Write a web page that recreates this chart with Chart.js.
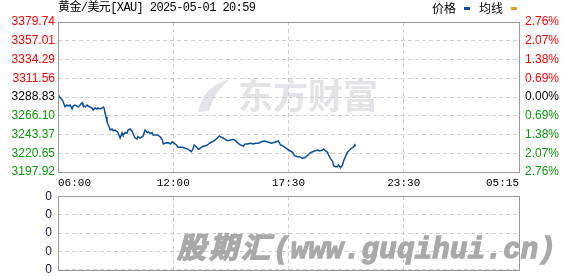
<!DOCTYPE html>
<html>
<head>
<meta charset="utf-8">
<script src="https://cdn.jsdelivr.net/npm/chart.js@4.4.0/dist/chart.umd.min.js"></script>
<style>
  body { margin: 0; background: #fff; }
  #wrap { position: relative; width: 578px; height: 276px; overflow: hidden; }
  canvas { position: absolute; left: 0; }
  #title { position: absolute; left: 58px; top: 1px; font: 12px "Liberation Mono", "Noto Sans CJK SC", monospace; line-height: 14px; color: #000; letter-spacing: -0.6px; }
  #legend { position: absolute; left: 432px; top: 1px; font: 12px "Noto Sans CJK SC", sans-serif; line-height: 14px; color: #000; }
  #legend i { display: inline-block; width: 6px; height: 3px; margin: 0 9px 3px 8px; vertical-align: middle; }
  #mark { position: absolute; left: 177px; top: 224px; color: #a9a9a9; -webkit-text-stroke: 1.3px #a9a9a9; line-height: 30px; white-space: nowrap; }
  #mark .cn { font: italic bold 29px "Noto Sans CJK SC", sans-serif; letter-spacing: 3px; }
  #mark .en { font: italic bold 29px "Liberation Mono", monospace; letter-spacing: 0.3px; }
</style>
</head>
<body>
<div id="wrap">
  <canvas id="priceChart" width="578" height="190" style="top:0"></canvas>
  <canvas id="volChart" width="578" height="100" style="top:183px"></canvas>
  <div id="title">黄金/美元[XAU] 2025-05-01 20:59</div>
  <div id="legend">价格<i style="background:#0b50a0"></i>均线<i style="background:#e0a020"></i></div>
  <div id="mark"><span class="cn">股期汇</span><span class="en">(www.guqihui.cn)</span></div>
</div>
<script>
// price axis (top to bottom, as printed)
const priceTicks = [3379.74, 3357.01, 3334.29, 3311.56, 3288.83, 3266.10, 3243.37, 3220.65, 3197.92];
const pctLabels = ["2.76%", "2.07%", "1.38%", "0.69%", "0.00%", "0.69%", "1.38%", "2.07%", "2.76%"];
const prevClose = 3288.83;

// time axis
const timeTicks = ["06:00", "12:00", "17:30", "23:30", "05:15"];

// intraday price
const times = [
  "06:00","06:03","06:06","06:13","06:16","06:22","06:28","06:31","06:38","06:44",
  "06:47","06:53","06:59","07:03","07:09","07:15","07:18","07:25","07:31","07:34",
  "07:40","07:46","07:50","07:56","08:02","08:05","08:11","08:18","08:21","08:24",
  "08:27","08:30","08:33","08:37","08:40","08:43","08:49","08:52","08:58","09:05",
  "09:08","09:14","09:20","09:23","09:30","09:36","09:39","09:45","09:52","09:55",
  "10:01","10:07","10:10","10:17","10:23","10:26","10:32","10:39","10:42","10:48",
  "10:54","10:57","11:04","11:10","11:19","11:26","11:29","11:35","11:44","11:51",
  "11:57","12:03","12:09","12:14","12:26","12:34","12:43","12:52","12:57","13:00",
  "13:06","13:12","13:17","13:26","13:32","13:38","13:43","13:52","13:58","14:06",
  "14:12","14:18","14:24","14:29","14:35","14:44","14:52","14:58","15:04","15:12",
  "15:21","15:26","15:32","15:41","15:50","15:55","16:04","16:12","16:21","16:33",
  "16:41","16:50","17:01","17:07","17:13","17:21","17:30","17:36","17:43","17:49",
  "17:58","18:04","18:14","18:20","18:29","18:36","18:45","18:51","19:01","19:07",
  "19:16","19:20","19:26","19:32","19:35","19:41","19:48","19:51","19:57","20:03",
  "20:06","20:13","20:19","20:22","20:28","20:35","20:38","20:44","20:50","20:54",
  "20:57","20:59"
];
const prices = [
  3289.6,3290.0,3288.5,3285.2,3283.1,3277.1,3279.1,3277.9,3279.1,3274.3,
  3277.9,3279.1,3277.9,3276.7,3279.1,3281.9,3279.1,3276.7,3279.1,3277.9,
  3276.7,3275.5,3273.1,3275.5,3274.3,3275.5,3274.3,3275.5,3276.7,3275.5,
  3269.4,3264.9,3258.9,3254.9,3252.5,3248.8,3250.0,3248.0,3248.8,3246.8,
  3245.2,3239.1,3245.2,3242.8,3245.6,3245.2,3248.8,3250.0,3246.8,3244.0,
  3239.1,3237.9,3240.7,3239.1,3240.7,3241.5,3248.8,3245.6,3246.8,3244.8,
  3245.6,3242.8,3242.8,3242.8,3240.7,3236.7,3231.9,3233.1,3233.5,3231.9,
  3234.6,3232.7,3230.7,3227.9,3227.9,3226.7,3225.4,3222.5,3226.7,3230.7,
  3228.6,3225.4,3226.7,3229.4,3229.4,3230.7,3232.7,3234.6,3235.9,3238.8,
  3241.6,3240.0,3238.8,3237.6,3235.9,3236.7,3237.6,3235.9,3233.5,3230.7,
  3229.4,3231.9,3231.9,3232.7,3231.9,3232.7,3232.7,3234.6,3235.5,3233.9,
  3232.7,3233.9,3235.5,3230.7,3229.8,3227.4,3224.6,3223.4,3221.8,3217.7,
  3216.5,3216.5,3214.5,3215.2,3217.7,3220.6,3222.5,3223.4,3224.6,3223.4,
  3224.6,3225.8,3223.4,3221.8,3218.5,3214.5,3210.4,3205.6,3204.3,3204.3,
  3206.4,3203.1,3206.4,3211.2,3216.5,3222.5,3223.4,3225.8,3227.4,3228.6,
  3230.7,3229.0
];

// volume panel ticks (empty panel, all zero)
const volTicks = ["0", "0", "0", "0", "0"];

// trading day runs 06:00 -> 05:15 next day, each tick gap drawn equal width
function toMin(t) {
  const [h, m] = t.split(":").map(Number);
  let v = h * 60 + m;
  if (v < 360) v += 1440;
  return v;
}
function timePos(t) {
  const v = toMin(t);
  for (let i = 0; i < timeTicks.length - 1; i++) {
    const a = toMin(timeTicks[i]), b = toMin(timeTicks[i + 1]);
    if (v <= b) return i + (v - a) / (b - a);
  }
  return timeTicks.length - 1;
}

const RED = "#ff0000", GREEN = "#089a08", GRID = "#cfcfcf", FRAME = "#999999";
const tickFont = { family: "Arial, 'Liberation Sans'", size: 12 };
const monoFont = { family: "'Liberation Mono', monospace", size: 11 };

const frame = {
  id: "frame",
  afterDraw(chart) {
    const { ctx, chartArea: a } = chart;
    ctx.save();
    ctx.strokeStyle = FRAME;
    ctx.lineWidth = 1;
    ctx.strokeRect(Math.round(a.left) + 0.5, Math.round(a.top) + 0.5,
      Math.round(a.right - a.left), Math.round(a.bottom - a.top));
    ctx.restore();
  }
};

const logo = {
  id: "logo",
  beforeDraw(chart) {
    const { ctx, chartArea: a } = chart;
    const x = a.left + 140, y = a.top + 74;
    ctx.save();
    ctx.fillStyle = "#e4e4e8";
    ctx.beginPath();
    ctx.moveTo(x, y + 16);
    ctx.quadraticCurveTo(x + 5, y - 10, x + 32, y - 17);
    ctx.quadraticCurveTo(x + 16, y - 4, x + 11, y + 15);
    ctx.closePath();
    ctx.fill();
    ctx.font = "bold 35px 'Noto Sans CJK SC'";
    ctx.textBaseline = "middle";
    ctx.fillText("东方财富", x + 40, y);
    ctx.restore();
  }
};

const xTicksFrom = () => timeTicks.map((_, i) => ({ value: i }));

new Chart(document.getElementById("priceChart"), {
  type: "line",
  data: {
    datasets: [{
      label: "价格",
      data: times.map((t, i) => ({ x: timePos(t), y: prices[i] })),
      borderColor: "#0b50a0",
      borderWidth: 1.5,
      pointRadius: 0,
      tension: 0,
      fill: false
    }]
  },
  options: {
    responsive: false,
    animation: false,
    layout: { padding: { top: 22, left: 0, right: 0, bottom: 0 } },
    plugins: { legend: { display: false }, tooltip: { enabled: false } },
    scales: {
      x: {
        type: "linear",
        min: 0,
        max: timeTicks.length - 1,
        afterBuildTicks: (s) => { s.ticks = xTicksFrom(); },
        afterFit: (s) => { s.height = 18; },
        ticks: {
          callback: (v, i) => timeTicks[i],
          align: "inner",
          autoSkip: false,
          maxRotation: 0,
          padding: 4,
          color: "#000",
          font: monoFont
        },
        grid: { color: GRID, drawTicks: false },
        border: { display: false, dash: [4, 3] }
      },
      y: {
        position: "left",
        min: priceTicks[priceTicks.length - 1],
        max: priceTicks[0],
        afterBuildTicks: (s) => { s.ticks = priceTicks.slice().reverse().map(v => ({ value: v })); },
        afterFit: (s) => { s.width = 58; },
        ticks: {
          callback: (v) => v.toFixed(2),
          autoSkip: false,
          padding: 3,
          font: tickFont,
          color: (c) => Math.abs(c.tick.value - prevClose) < 0.005 ? "#000" : (c.tick.value > prevClose ? RED : GREEN)
        },
        grid: { color: GRID, drawTicks: false },
        border: { display: false, dash: [4, 3] }
      },
      y2: {
        position: "right",
        min: priceTicks[priceTicks.length - 1],
        max: priceTicks[0],
        afterBuildTicks: (s) => { s.ticks = priceTicks.slice().reverse().map(v => ({ value: v })); },
        afterFit: (s) => { s.width = 59; },
        ticks: {
          callback: (v, i) => pctLabels[pctLabels.length - 1 - i],
          autoSkip: false,
          padding: 6,
          font: tickFont,
          color: (c) => Math.abs(c.tick.value - prevClose) < 0.005 ? "#000" : (c.tick.value > prevClose ? RED : GREEN)
        },
        grid: { display: false, drawTicks: false },
        border: { display: false }
      }
    }
  },
  plugins: [logo, frame]
});

// lower panel: same time axis, no volume drawn
// canvas starts 7px higher so the 13px label padding lands the box at 196..270
new Chart(document.getElementById("volChart"), {
  type: "line",
  data: { datasets: [{ label: "vol", data: [], pointRadius: 0 }] },
  options: {
    responsive: false,
    animation: false,
    layout: { padding: { top: 13, left: 0, right: 59, bottom: 13 } },
    plugins: { legend: { display: false }, tooltip: { enabled: false } },
    scales: {
      x: {
        type: "linear",
        min: 0,
        max: timeTicks.length - 1,
        afterBuildTicks: (s) => { s.ticks = xTicksFrom(); },
        afterFit: (s) => { s.height = 0; },
        ticks: { display: false },
        grid: { color: GRID, drawTicks: false },
        border: { display: false, dash: [4, 3] }
      },
      y: {
        type: "linear",
        position: "left",
        min: 0,
        max: volTicks.length - 1,
        afterBuildTicks: (s) => { s.ticks = volTicks.map((_, i) => ({ value: i })); },
        afterFit: (s) => { s.width = 58; },
        ticks: {
          callback: (v, i) => volTicks[i],
          autoSkip: false,
          padding: 6,
          font: tickFont,
          color: "#10104a"
        },
        grid: { color: GRID, drawTicks: false },
        border: { display: false, dash: [4, 3] }
      }
    }
  },
  plugins: [frame]
});
</script>
</body>
</html>
